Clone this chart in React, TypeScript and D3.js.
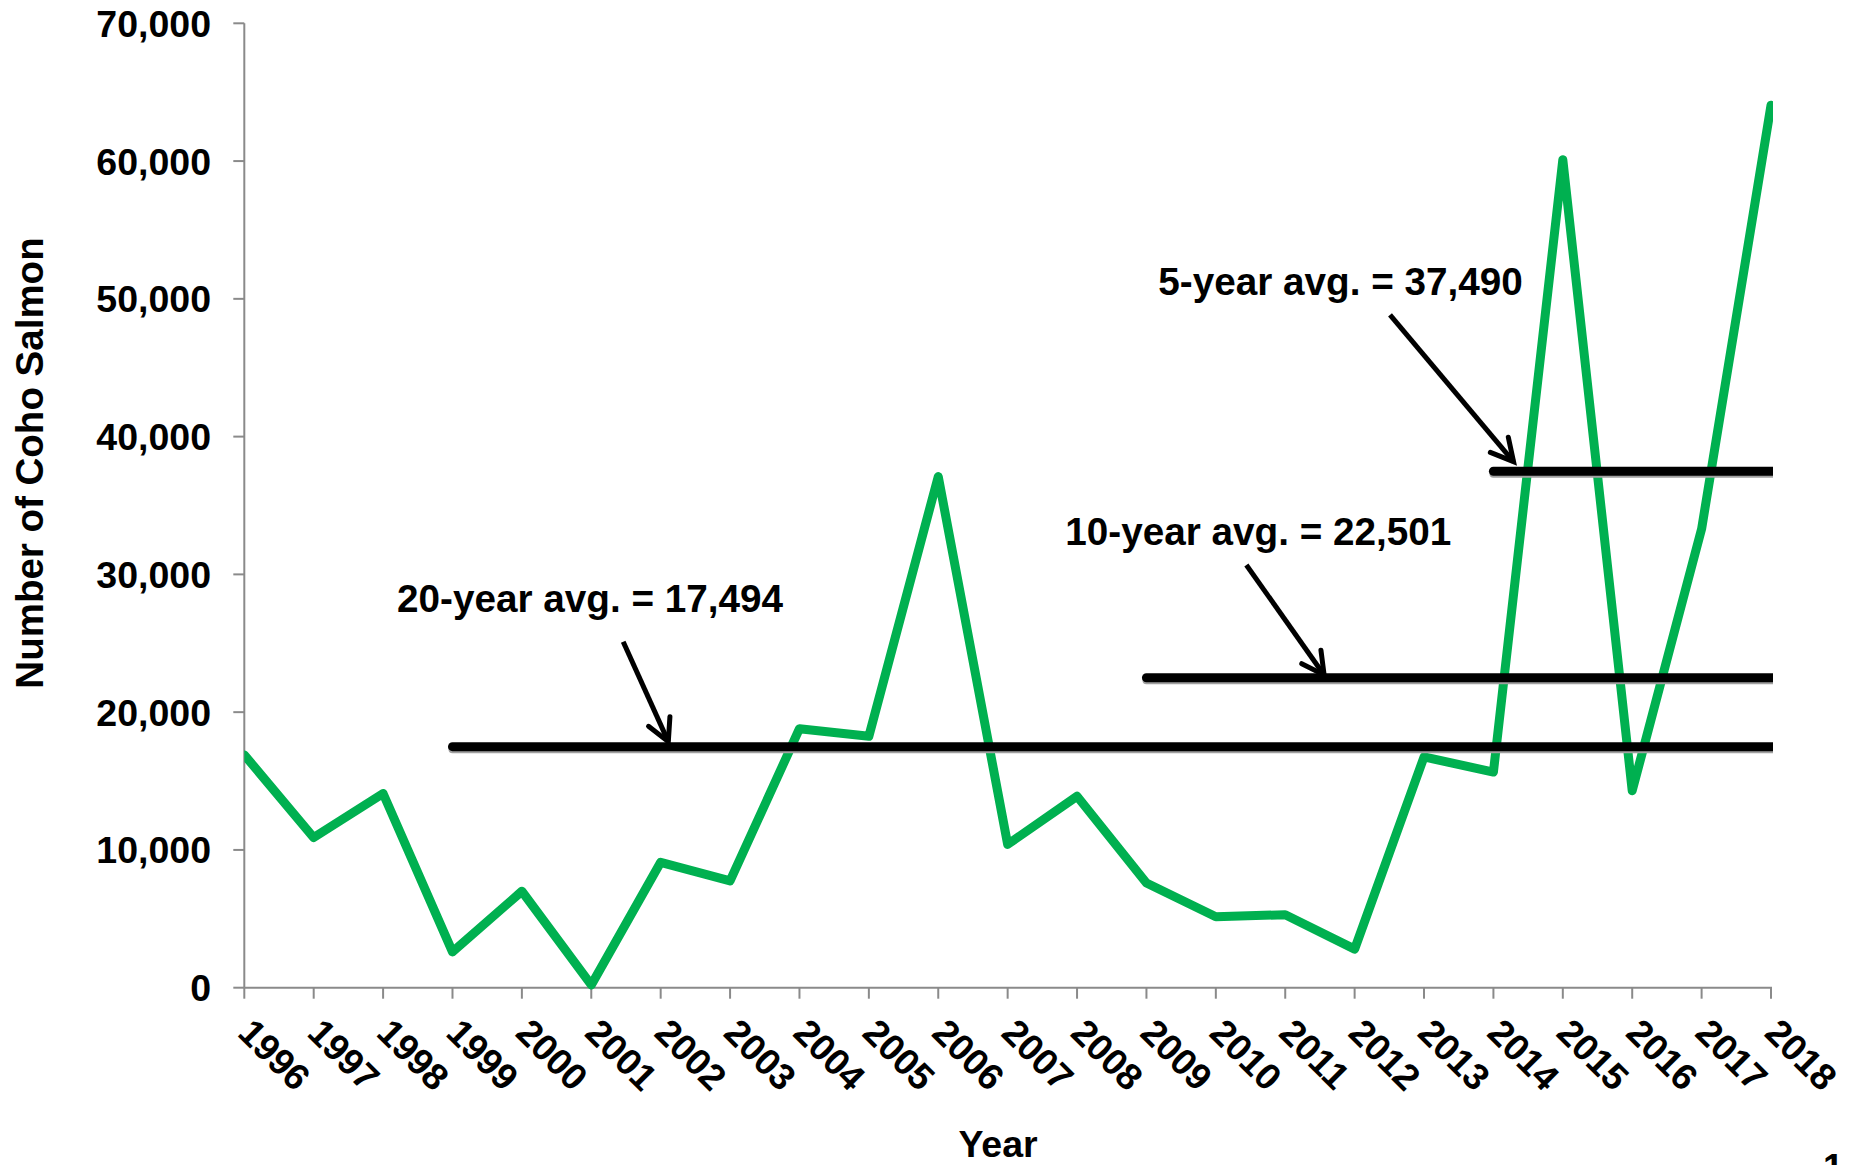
import React, { useEffect } from "react";
import * as d3 from "d3";

const years: number[] = [1996, 1997, 1998, 1999, 2000, 2001, 2002, 2003, 2004, 2005, 2006, 2007, 2008, 2009, 2010, 2011, 2012, 2013, 2014, 2015, 2016, 2017, 2018];
const cohoCounts: number[] = [16900, 10900, 14100, 2600, 7000, 200, 9100, 7750, 18800, 18250, 37100, 10400, 13900, 7600, 5150, 5300, 2800, 16750, 15650, 60100, 14300, 33300, 64050];
const yTicks: number[] = [0, 10000, 20000, 30000, 40000, 50000, 60000, 70000];

const avgLabels: string[] = ["20-year avg. = 17,494", "10-year avg. = 22,501", "5-year avg. = 37,490"];
const avgValues: number[] = [17494, 22501, 37490];
const avgStartYears: number[] = [1999, 2009, 2014];
const avgEndYear = 2018;
// label anchor (year, value), arrow start (year, value), arrow tip (year, value)
const labelPos: [number, number][] = [[1998.2, 27300], [2007.83, 32130], [2009.17, 50280]];
const arrowFrom: [number, number][] = [[2001.46, 25115], [2010.44, 30680], [2012.51, 48830]];
const arrowTo: [number, number][] = [[2002.11, 17860], [2011.56, 22700], [2014.29, 38180]];

const W = 1854;
const H = 1165;
const FONT = "'Liberation Sans', Arial, Helvetica, sans-serif";

export default function App() {
  useEffect(() => {
    document.body.style.margin = "0";
    document.body.style.overflow = "hidden";
  }, []);

  const x = d3.scaleLinear().domain([1996, 2018]).range([244.3, 1771]);
  const y = d3.scaleLinear().domain([0, 70000]).range([987.7, 23.3]);
  const x0 = x.range()[0];
  const x1 = x.range()[1];
  const y0 = y.range()[0];
  const yTop = y.range()[1];
  const fmt = d3.format(",");

  const line = d3
    .line<number>()
    .x((_, i) => x(years[i]))
    .y((d) => y(d));

  const axisColor = "#8a8a8a";

  const arrowHead = (fx: number, fy: number, tx: number, ty: number) => {
    const ang = Math.atan2(ty - fy, tx - fx) + Math.PI;
    const len = 25;
    const spread = (28 * Math.PI) / 180;
    const a1 = [tx + len * Math.cos(ang - spread), ty + len * Math.sin(ang - spread)];
    const a2 = [tx + len * Math.cos(ang + spread), ty + len * Math.sin(ang + spread)];
    return `M${a1[0]},${a1[1]}L${tx},${ty}L${a2[0]},${a2[1]}`;
  };

  return (
    <svg width={W} height={H} style={{ display: "block", background: "#fff" }} fontFamily={FONT}>
      <defs>
        <clipPath id="plotClip">
          <rect x={x0} y={0} width={x1 - x0 + 2} height={y0 + 8} />
        </clipPath>
      </defs>

      {/* axes */}
      <line x1={x0} x2={x0} y1={yTop} y2={y0} stroke={axisColor} strokeWidth={2} />
      <line x1={x0} x2={x1 + 1} y1={y0} y2={y0} stroke={axisColor} strokeWidth={2} />
      {yTicks.map((t) => (
        <g key={t}>
          <line x1={x0 - 11} x2={x0} y1={y(t)} y2={y(t)} stroke={axisColor} strokeWidth={2} />
          <text x={211} y={y(t)} dy="0.36em" textAnchor="end" fontSize={37.5} fontWeight="bold" fill="#000">
            {fmt(t)}
          </text>
        </g>
      ))}
      {years.map((yr) => (
        <g key={yr}>
          <line x1={x(yr)} x2={x(yr)} y1={y0} y2={y0 + 11} stroke={axisColor} strokeWidth={2} />
          <text
            transform={`translate(${x(yr) - 8},${y0 + 47}) rotate(45)`}
            textAnchor="start"
            fontSize={37}
            fontWeight="bold"
            fill="#000"
          >
            {yr}
          </text>
        </g>
      ))}

      {/* data line */}
      <g clipPath="url(#plotClip)">
        <path
          d={line(cohoCounts) || ""}
          fill="none"
          stroke="#00B050"
          strokeWidth={9}
          strokeLinejoin="round"
          strokeLinecap="round"
        />
        {avgValues.map((v, i) => (
          <g key={i}>
            <line
              x1={x(avgStartYears[i])}
              x2={x(avgEndYear) + 6}
              y1={y(v) + 2.5}
              y2={y(v) + 2.5}
              stroke="#a0a0a0"
              strokeWidth={8}
              strokeLinecap="round"
            />
            <line
              x1={x(avgStartYears[i])}
              x2={x(avgEndYear) + 6}
              y1={y(v)}
              y2={y(v)}
              stroke="#000"
              strokeWidth={9}
              strokeLinecap="round"
            />
          </g>
        ))}
      </g>

      {/* annotations */}
      {avgLabels.map((lab, i) => {
        const fx = x(arrowFrom[i][0]);
        const fy = y(arrowFrom[i][1]);
        const tx = x(arrowTo[i][0]);
        const ty = y(arrowTo[i][1]);
        return (
          <g key={lab}>
            <text x={x(labelPos[i][0])} y={y(labelPos[i][1])} fontSize={38.7} fontWeight="bold" fill="#000">
              {lab}
            </text>
            <line x1={fx} y1={fy} x2={tx} y2={ty} stroke="#000" strokeWidth={5} />
            <path d={arrowHead(fx, fy, tx, ty)} fill="none" stroke="#000" strokeWidth={5} strokeLinecap="round" strokeLinejoin="miter" />
          </g>
        );
      })}

      {/* axis titles */}
      <text
        transform={`translate(43,463) rotate(-90)`}
        textAnchor="middle"
        fontSize={38.5}
        fontWeight="bold"
        fill="#000"
      >
        Number of Coho Salmon
      </text>
      <text x={998} y={1157} textAnchor="middle" fontSize={37.5} fontWeight="bold" fill="#000">
        Year
      </text>
      <text x={1823} y={1180} fontSize={37} fontWeight="bold" fill="#000">
        1
      </text>
    </svg>
  );
}
